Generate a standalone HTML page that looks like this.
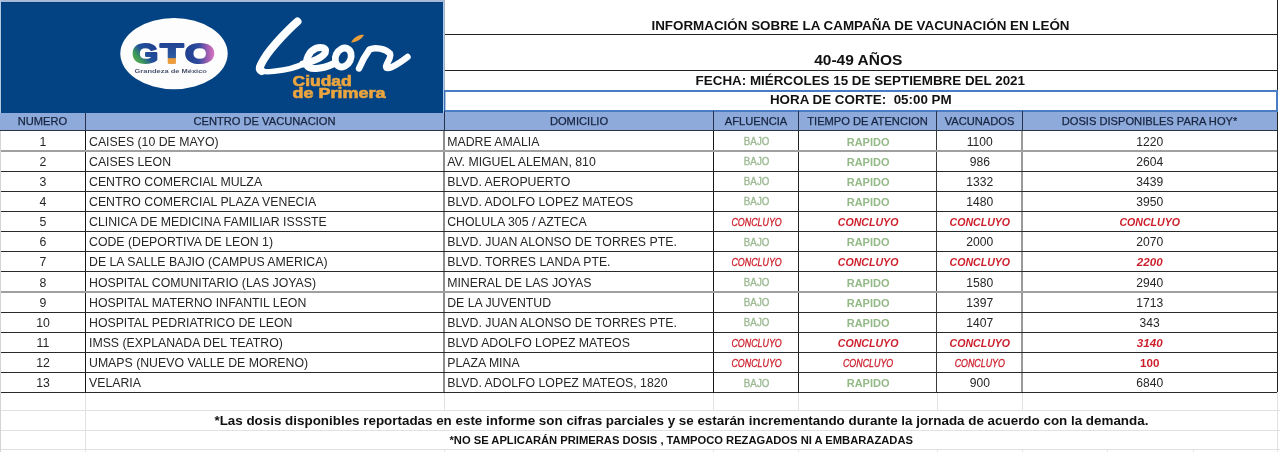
<!DOCTYPE html>
<html><head><meta charset="utf-8"><style>
html,body{margin:0;padding:0;background:#fff;width:1280px;height:452px;overflow:hidden}
svg{display:block;will-change:transform}
text{font-family:'Liberation Sans', sans-serif}
.hb{font-weight:bold;font-size:13.4px;fill:#111}
.hd{font-size:11.15px;fill:#17243f;stroke:#17243f;stroke-width:0.25px}
.dt{font-size:12.3px;fill:#262626}
.num{font-size:12.1px;fill:#262626}
.bajo{font-size:10.5px;fill:#9dba93;stroke:#9dba93;stroke-width:0.35px}
.rap{font-weight:bold;font-size:11px;fill:#93b987}
.ci{font-style:italic;font-size:10.5px;fill:#cc1f2b;stroke:#cc1f2b;stroke-width:0.3px}
.cb{font-weight:bold;font-style:italic;font-size:10.6px;fill:#cc1f2b}
.nbi{font-weight:bold;font-style:italic;font-size:11.6px;fill:#cc1f2b}
.nb{font-weight:bold;font-size:11.6px;fill:#cc1f2b}
</style></head><body>
<svg width="1280" height="452" viewBox="0 0 1280 452">

<rect x="0" y="0" width="1280" height="452" fill="#fff"/>
<rect x="0" y="410" width="1280" height="1" fill="#e2e2e2"/>
<rect x="0" y="430" width="1280" height="1" fill="#e2e2e2"/>
<rect x="0" y="449" width="1280" height="1" fill="#e2e2e2"/>
<rect x="85" y="392" width="1" height="60" fill="#e2e2e2"/>
<rect x="444" y="393" width="1" height="17" fill="#e2e2e2"/>
<rect x="713" y="393" width="1" height="17" fill="#e2e2e2"/>
<rect x="798" y="393" width="1" height="17" fill="#e2e2e2"/>
<rect x="937" y="393" width="1" height="17" fill="#e2e2e2"/>
<rect x="1022" y="393" width="1" height="17" fill="#e2e2e2"/>
<rect x="444" y="449" width="1" height="3" fill="#e2e2e2"/>
<rect x="713" y="449" width="1" height="3" fill="#e2e2e2"/>
<rect x="798" y="449" width="1" height="3" fill="#e2e2e2"/>
<rect x="937" y="449" width="1" height="3" fill="#e2e2e2"/>
<rect x="1022" y="449" width="1" height="3" fill="#e2e2e2"/>
<rect x="1107" y="449" width="1" height="3" fill="#e2e2e2"/>
<rect x="1193" y="449" width="1" height="3" fill="#e2e2e2"/>
<rect x="1277" y="392" width="1" height="60" fill="#e2e2e2"/>
<rect x="0" y="0" width="444" height="2" fill="#a5bbd9"/>
<rect x="0" y="0" width="1" height="113" fill="#b3c6e2"/>
<rect x="1" y="2" width="442" height="111" fill="#044383"/>
<rect x="1" y="2" width="442" height="1" fill="#073a72"/>
<rect x="443" y="2" width="1" height="111" fill="#a9cdef"/>
<rect x="444" y="34" width="833" height="1" fill="#222"/>
<rect x="444" y="70" width="833" height="1" fill="#222"/>
<rect x="1277" y="0" width="1" height="392" fill="#222"/>
<rect x="444" y="0" width="1" height="90" fill="#a9b2c2"/>
<rect x="444" y="90" width="834" height="2" fill="#4a7cc4"/>
<rect x="444" y="110" width="834" height="2" fill="#4a7cc4"/>
<rect x="444" y="90" width="1" height="21" fill="#3f6cb0"/>
<rect x="445" y="92" width="1" height="18" fill="#a8c4ea"/>
<rect x="1276" y="90" width="2" height="21" fill="#4a7cc4"/>
<rect x="0" y="113" width="444" height="17" fill="#8eaadb"/>
<rect x="444" y="112" width="833" height="18" fill="#8eaadb"/>
<rect x="0" y="130" width="1277" height="1" fill="#2b3346"/>
<rect x="85" y="131" width="1" height="262" fill="#151515"/>
<rect x="443" y="131" width="2" height="262" fill="#8d8d8d"/>
<rect x="713" y="131" width="1" height="262" fill="#151515"/>
<rect x="798" y="131" width="1" height="262" fill="#222"/>
<rect x="936" y="131" width="1" height="262" fill="#3a3a3a"/>
<rect x="1021" y="131" width="2" height="262" fill="#9a9a9a"/>
<rect x="85" y="113" width="1" height="18" fill="#27324a"/>
<rect x="444" y="111" width="1" height="20" fill="#27324a"/>
<rect x="713" y="111" width="1" height="20" fill="#27324a"/>
<rect x="798" y="111" width="1" height="20" fill="#27324a"/>
<rect x="936" y="111" width="1" height="20" fill="#27324a"/>
<rect x="1022" y="111" width="1" height="20" fill="#27324a"/>
<rect x="1" y="150" width="1276" height="2" fill="#a0a0a0"/>
<rect x="1" y="171" width="1276" height="1" fill="#2a2a2a"/>
<rect x="1" y="191" width="1276" height="1" fill="#2a2a2a"/>
<rect x="1" y="211" width="1276" height="1" fill="#2a2a2a"/>
<rect x="1" y="231" width="1276" height="1" fill="#2a2a2a"/>
<rect x="1" y="251" width="1276" height="1" fill="#2a2a2a"/>
<rect x="1" y="271" width="1276" height="1" fill="#2a2a2a"/>
<rect x="1" y="291" width="1276" height="2" fill="#a0a0a0"/>
<rect x="1" y="312" width="1276" height="1" fill="#2a2a2a"/>
<rect x="1" y="332" width="1276" height="1" fill="#2a2a2a"/>
<rect x="1" y="352" width="1276" height="1" fill="#2a2a2a"/>
<rect x="1" y="372" width="1276" height="1" fill="#2a2a2a"/>
<rect x="1" y="392" width="1276" height="1" fill="#2a2a2a"/>
<rect x="0" y="131" width="1" height="321" fill="#d4d4d4"/>
<defs>
<linearGradient id="gG" x1="0" y1="1" x2="1" y2="0">
<stop offset="0" stop-color="#6cba3a"/><stop offset="0.3" stop-color="#3f9a5a"/><stop offset="0.5" stop-color="#22509a"/><stop offset="1" stop-color="#1f3889"/></linearGradient>
<linearGradient id="gT" x1="0" y1="0" x2="0" y2="1">
<stop offset="0" stop-color="#203b8c"/><stop offset="0.62" stop-color="#2a5aa2"/><stop offset="0.66" stop-color="#e99a3c"/><stop offset="1" stop-color="#f0a645"/></linearGradient>
<linearGradient id="gO" x1="0" y1="0" x2="1" y2="0">
<stop offset="0" stop-color="#1f3f90"/><stop offset="0.45" stop-color="#2d4a9c"/><stop offset="0.75" stop-color="#9a5cb0"/><stop offset="1" stop-color="#dc74c2"/></linearGradient>
</defs>
<ellipse cx="174" cy="53.6" rx="53.7" ry="35.6" fill="#fdfdfd"/>
<g style="font-weight:bold;font-size:27.5px" stroke-width="2" stroke-linejoin="round">
<text transform="translate(132.6 63.3) scale(1.2 1)" fill="url(#gG)" stroke="url(#gG)">G</text>
<text transform="translate(160.3 63.3) scale(1.38 1)" fill="url(#gT)" stroke="url(#gT)">T</text>
<text transform="translate(185 63.3) scale(1.38 1)" fill="url(#gO)" stroke="url(#gO)">O</text>
</g>
<text transform="translate(134.5 73.2) scale(1.5 1)" style="font-weight:bold;font-size:5px;fill:#4a5470">Grandeza de México</text>
<g fill="none" stroke="#fbfdff" stroke-linecap="round" stroke-linejoin="round">
<path d="M297.5 21.5 C290 28 272 46 264 59 C259.5 66.5 258.5 69.5 261.5 71" stroke-width="8"/>
<path d="M260 70 C262 72.5 268 72 274 71.3 C285 70.2 296 68 305 63" stroke-width="5.6"/>
<path d="M303 64 C312 62 323 57.5 325.3 52.5 C326.8 47.8 321 46.3 316 48.3 C308.5 51.5 305.5 60 307 65.5 C309 70 321 69.5 333 64" stroke-width="7"/>
<ellipse cx="343.2" cy="57.5" rx="7.6" ry="9.8" transform="rotate(25 343.2 57.5)" stroke-width="6.8"/>
<path d="M359 68.5 C362 61 365.5 55 369.5 49.5 C375 47 385 48.5 390 53.5 C391.5 58 387 62 386 66.5 C386.5 70.5 395 66.5 407.5 57" stroke-width="6.4"/>

</g>
<path d="M351 42.5 C354 37 359 34.5 364 34.8 C362 39 357 42 351 42.5 Z" fill="#e9a03b"/>
<g style="font-weight:bold;font-size:14px;fill:#eba53f;stroke:#eba53f;stroke-width:0.6px">
<text transform="translate(292.6 85.8) scale(1.245 1)">Ciudad</text>
<text transform="translate(292.6 98.1) scale(1.285 1)">de Primera</text>
</g>

<text x="860.5" y="29.7" text-anchor="middle" class="hb">INFORMACIÓN SOBRE LA CAMPAÑA DE VACUNACIÓN EN LEÓN</text>
<text x="858.3" y="65.2" text-anchor="middle" class="hb" style="font-size:15.5px">40-49 AÑOS</text>
<text x="860.3" y="84.8" text-anchor="middle" class="hb">FECHA: MIÉRCOLES 15 DE SEPTIEMBRE DEL 2021</text>
<text x="860.8" y="103.7" text-anchor="middle" class="hb" xml:space="preserve">HORA DE CORTE:  05:00 PM</text>
<text x="42.5" y="125" text-anchor="middle" class="hd">NUMERO</text>
<text x="264.5" y="125" text-anchor="middle" class="hd">CENTRO DE VACUNACION</text>
<text x="579" y="125" text-anchor="middle" class="hd">DOMICILIO</text>
<text x="756" y="125" text-anchor="middle" class="hd">AFLUENCIA</text>
<text x="867.5" y="125" text-anchor="middle" class="hd">TIEMPO DE ATENCION</text>
<text x="979.5" y="125" text-anchor="middle" class="hd">VACUNADOS</text>
<text x="1149.5" y="125" text-anchor="middle" class="hd">DOSIS DISPONIBLES PARA HOY*</text>
<text x="43" y="145.5" text-anchor="middle" class="dt">1</text>
<text x="89" y="145.5" class="dt">CAISES (10 DE MAYO)</text>
<text x="447.2" y="145.5" class="dt">MADRE AMALIA</text>
<text transform="translate(756.6 145.0) scale(0.93 1)" text-anchor="middle" class="bajo">BAJO</text>
<text x="868.1" y="145.5" text-anchor="middle" class="rap">RAPIDO</text>
<text x="979.8" y="145.5" text-anchor="middle" class="num">1100</text>
<text x="1149.7" y="145.5" text-anchor="middle" class="num">1220</text>
<text x="43" y="165.65" text-anchor="middle" class="dt">2</text>
<text x="89" y="165.65" class="dt">CAISES LEON</text>
<text x="447.2" y="165.65" class="dt">AV. MIGUEL ALEMAN, 810</text>
<text transform="translate(756.6 165.15) scale(0.93 1)" text-anchor="middle" class="bajo">BAJO</text>
<text x="868.1" y="165.65" text-anchor="middle" class="rap">RAPIDO</text>
<text x="979.8" y="165.65" text-anchor="middle" class="num">986</text>
<text x="1149.7" y="165.65" text-anchor="middle" class="num">2604</text>
<text x="43" y="185.8" text-anchor="middle" class="dt">3</text>
<text x="89" y="185.8" class="dt">CENTRO COMERCIAL MULZA</text>
<text x="447.2" y="185.8" class="dt">BLVD. AEROPUERTO</text>
<text transform="translate(756.6 185.3) scale(0.93 1)" text-anchor="middle" class="bajo">BAJO</text>
<text x="868.1" y="185.8" text-anchor="middle" class="rap">RAPIDO</text>
<text x="979.8" y="185.8" text-anchor="middle" class="num">1332</text>
<text x="1149.7" y="185.8" text-anchor="middle" class="num">3439</text>
<text x="43" y="205.95" text-anchor="middle" class="dt">4</text>
<text x="89" y="205.95" class="dt">CENTRO COMERCIAL PLAZA VENECIA</text>
<text x="447.2" y="205.95" class="dt">BLVD. ADOLFO LOPEZ MATEOS</text>
<text transform="translate(756.6 205.45) scale(0.93 1)" text-anchor="middle" class="bajo">BAJO</text>
<text x="868.1" y="205.95" text-anchor="middle" class="rap">RAPIDO</text>
<text x="979.8" y="205.95" text-anchor="middle" class="num">1480</text>
<text x="1149.7" y="205.95" text-anchor="middle" class="num">3950</text>
<text x="43" y="226.1" text-anchor="middle" class="dt">5</text>
<text x="89" y="226.1" class="dt">CLINICA DE MEDICINA FAMILIAR ISSSTE</text>
<text x="447.2" y="226.1" class="dt">CHOLULA 305 / AZTECA</text>
<text transform="translate(756.6 226.1) scale(0.845 1)" text-anchor="middle" class="ci">CONCLUYO</text>
<text x="868.1" y="226.1" text-anchor="middle" class="cb">CONCLUYO</text>
<text x="979.8" y="226.1" text-anchor="middle" class="cb">CONCLUYO</text>
<text x="1149.7" y="226.1" text-anchor="middle" class="cb">CONCLUYO</text>
<text x="43" y="246.25" text-anchor="middle" class="dt">6</text>
<text x="89" y="246.25" class="dt">CODE (DEPORTIVA DE LEON 1)</text>
<text x="447.2" y="246.25" class="dt">BLVD. JUAN ALONSO DE TORRES PTE.</text>
<text transform="translate(756.6 245.75) scale(0.93 1)" text-anchor="middle" class="bajo">BAJO</text>
<text x="868.1" y="246.25" text-anchor="middle" class="rap">RAPIDO</text>
<text x="979.8" y="246.25" text-anchor="middle" class="num">2000</text>
<text x="1149.7" y="246.25" text-anchor="middle" class="num">2070</text>
<text x="43" y="266.4" text-anchor="middle" class="dt">7</text>
<text x="89" y="266.4" class="dt">DE LA SALLE BAJIO (CAMPUS AMERICA)</text>
<text x="447.2" y="266.4" class="dt">BLVD. TORRES LANDA PTE.</text>
<text transform="translate(756.6 266.4) scale(0.845 1)" text-anchor="middle" class="ci">CONCLUYO</text>
<text x="868.1" y="266.4" text-anchor="middle" class="cb">CONCLUYO</text>
<text x="979.8" y="266.4" text-anchor="middle" class="cb">CONCLUYO</text>
<text x="1149.7" y="266.4" text-anchor="middle" class="nbi">2200</text>
<text x="43" y="286.55" text-anchor="middle" class="dt">8</text>
<text x="89" y="286.55" class="dt">HOSPITAL COMUNITARIO (LAS JOYAS)</text>
<text x="447.2" y="286.55" class="dt">MINERAL DE LAS JOYAS</text>
<text transform="translate(756.6 286.05) scale(0.93 1)" text-anchor="middle" class="bajo">BAJO</text>
<text x="868.1" y="286.55" text-anchor="middle" class="rap">RAPIDO</text>
<text x="979.8" y="286.55" text-anchor="middle" class="num">1580</text>
<text x="1149.7" y="286.55" text-anchor="middle" class="num">2940</text>
<text x="43" y="306.7" text-anchor="middle" class="dt">9</text>
<text x="89" y="306.7" class="dt">HOSPITAL MATERNO INFANTIL LEON</text>
<text x="447.2" y="306.7" class="dt">DE LA JUVENTUD</text>
<text transform="translate(756.6 306.2) scale(0.93 1)" text-anchor="middle" class="bajo">BAJO</text>
<text x="868.1" y="306.7" text-anchor="middle" class="rap">RAPIDO</text>
<text x="979.8" y="306.7" text-anchor="middle" class="num">1397</text>
<text x="1149.7" y="306.7" text-anchor="middle" class="num">1713</text>
<text x="43" y="326.85" text-anchor="middle" class="dt">10</text>
<text x="89" y="326.85" class="dt">HOSPITAL PEDRIATRICO DE LEON</text>
<text x="447.2" y="326.85" class="dt">BLVD. JUAN ALONSO DE TORRES PTE.</text>
<text transform="translate(756.6 326.35) scale(0.93 1)" text-anchor="middle" class="bajo">BAJO</text>
<text x="868.1" y="326.85" text-anchor="middle" class="rap">RAPIDO</text>
<text x="979.8" y="326.85" text-anchor="middle" class="num">1407</text>
<text x="1149.7" y="326.85" text-anchor="middle" class="num">343</text>
<text x="43" y="347.0" text-anchor="middle" class="dt">11</text>
<text x="89" y="347.0" class="dt">IMSS (EXPLANADA DEL TEATRO)</text>
<text x="447.2" y="347.0" class="dt">BLVD ADOLFO LOPEZ MATEOS</text>
<text transform="translate(756.6 347.0) scale(0.845 1)" text-anchor="middle" class="ci">CONCLUYO</text>
<text x="868.1" y="347.0" text-anchor="middle" class="cb">CONCLUYO</text>
<text x="979.8" y="347.0" text-anchor="middle" class="cb">CONCLUYO</text>
<text x="1149.7" y="347.0" text-anchor="middle" class="nbi">3140</text>
<text x="43" y="367.15" text-anchor="middle" class="dt">12</text>
<text x="89" y="367.15" class="dt">UMAPS (NUEVO VALLE DE MORENO)</text>
<text x="447.2" y="367.15" class="dt">PLAZA MINA</text>
<text transform="translate(756.6 367.15) scale(0.845 1)" text-anchor="middle" class="ci">CONCLUYO</text>
<text transform="translate(868.1 367.15) scale(0.845 1)" text-anchor="middle" class="ci">CONCLUYO</text>
<text transform="translate(979.8 367.15) scale(0.845 1)" text-anchor="middle" class="ci">CONCLUYO</text>
<text x="1149.7" y="367.15" text-anchor="middle" class="nb">100</text>
<text x="43" y="387.3" text-anchor="middle" class="dt">13</text>
<text x="89" y="387.3" class="dt">VELARIA</text>
<text x="447.2" y="387.3" class="dt">BLVD. ADOLFO LOPEZ MATEOS, 1820</text>
<text transform="translate(756.6 386.8) scale(0.93 1)" text-anchor="middle" class="bajo">BAJO</text>
<text x="868.1" y="387.3" text-anchor="middle" class="rap">RAPIDO</text>
<text x="979.8" y="387.3" text-anchor="middle" class="num">900</text>
<text x="1149.7" y="387.3" text-anchor="middle" class="num">6840</text>
<text x="681.4" y="425" text-anchor="middle" class="hb">*Las dosis disponibles reportadas en este informe son cifras parciales y se estarán incrementando durante la jornada de acuerdo con la demanda.</text>
<text x="681.2" y="444.2" text-anchor="middle" class="hb" style="font-size:11.2px">*NO SE APLICARÁN PRIMERAS DOSIS , TAMPOCO REZAGADOS NI A EMBARAZADAS</text>
</svg></body></html>
